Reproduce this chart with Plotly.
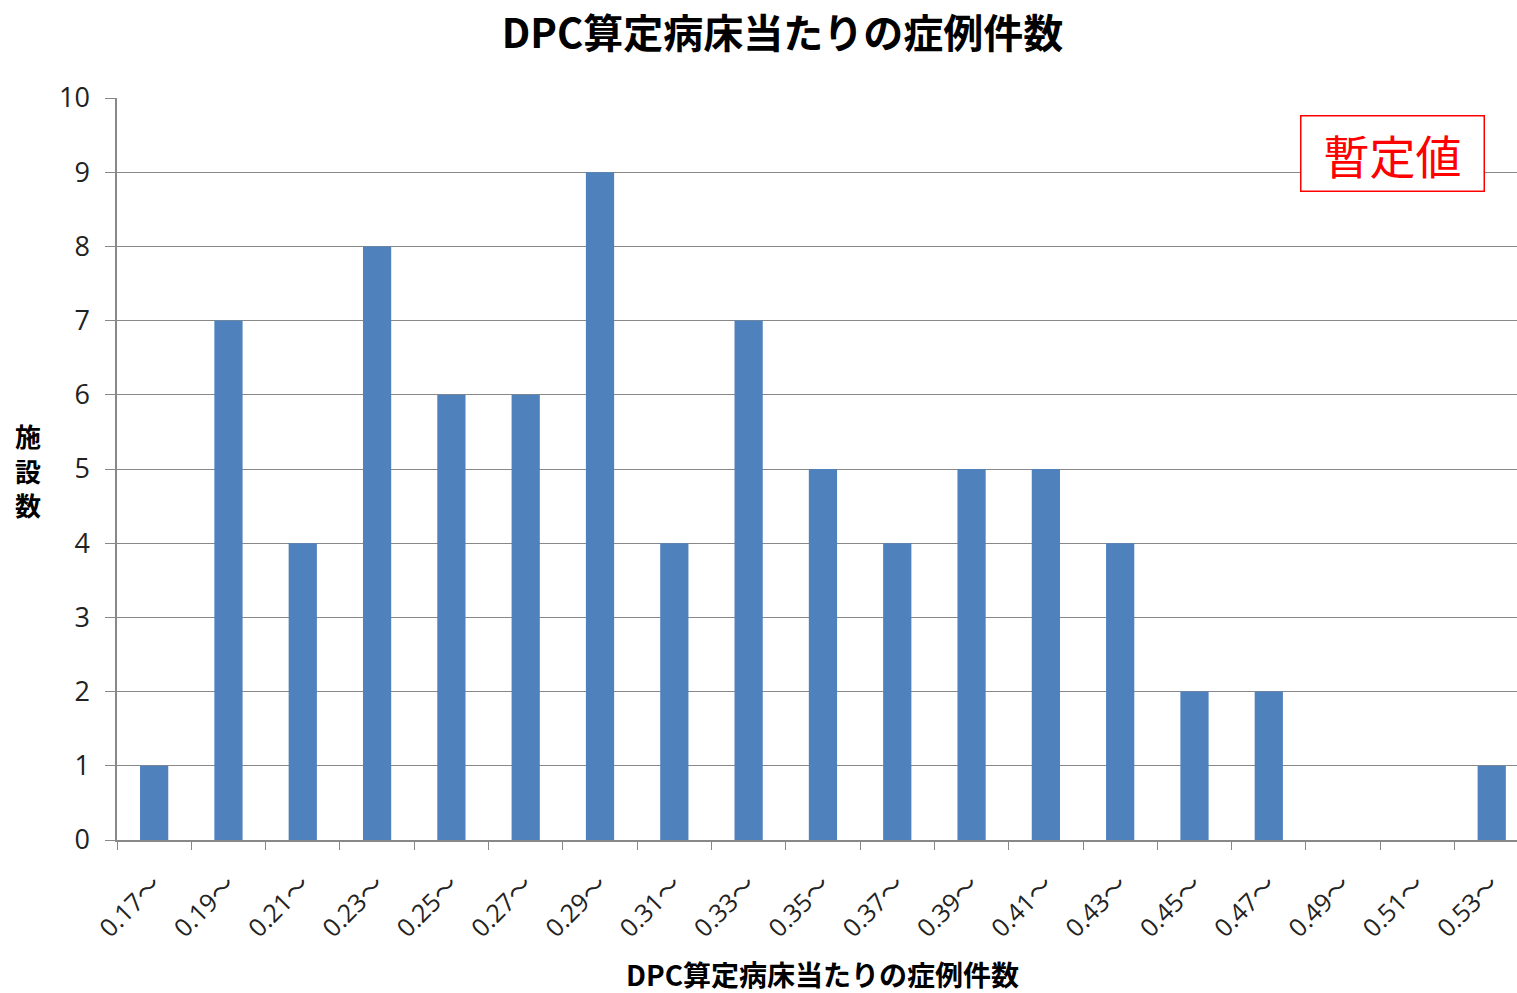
import plotly.graph_objects as go

categories = ["0.17〜", "0.19〜", "0.21〜", "0.23〜", "0.25〜", "0.27〜", "0.29〜", "0.31〜",
              "0.33〜", "0.35〜", "0.37〜", "0.39〜", "0.41〜", "0.43〜", "0.45〜", "0.47〜",
              "0.49〜", "0.51〜", "0.53〜"]
counts = [1, 7, 4, 8, 6, 6, 9, 4, 7, 5, 4, 5, 5, 4, 2, 2, 0, 0, 1]
title_text = "DPC算定病床当たりの症例件数"
y_title_chars = ["施", "設", "数"]
badge = "暫定値"

JP = "Noto Sans CJK JP, Noto Sans, sans-serif"
NUM = "Open Sans, Noto Sans CJK JP, sans-serif"

fig = go.Figure(go.Bar(x=categories, y=counts, marker=dict(color="#4F81BD", line=dict(width=0))))

annotations = []
for i, ch in enumerate(y_title_chars):
    annotations.append(dict(text=f"<b>{ch}</b>", xref="paper", yref="paper",
                            x=(28 - 117) / 1400, y=(840 - (435 + 35 * i)) / 742, xanchor="center",
                            yanchor="middle", showarrow=False, height=33,
                            font=dict(family=JP, size=26, color="black")))
annotations.append(dict(text=badge, xref="paper", yref="paper", x=0.911, y=0.925,
                        xanchor="center", yanchor="middle", showarrow=False,
                        font=dict(family=JP, size=46, color="#FF0000"),
                        bordercolor="#FF0000", borderwidth=1.5, borderpad=0,
                        bgcolor="white", width=182, height=74))
annotations.append(dict(text=f"<b>{title_text}</b>", xref="paper", yref="paper",
                        x=(822 - 117) / 1400, y=(840 - 974) / 742, xanchor="center",
                        yanchor="middle", showarrow=False, height=34,
                        font=dict(family=JP, size=28, color="black")))

fig.update_layout(
    width=1517, height=993, autosize=False,
    paper_bgcolor="white", plot_bgcolor="white",
    margin=dict(l=117, r=0, t=98, b=153),
    bargap=0.62,
    showlegend=False,
    title=dict(text=f"<b>{title_text}</b>", x=782.5 / 1517, xanchor="center", y=1 - 34 / 993,
               yanchor="middle", font=dict(family=JP, size=40, color="black")),
    xaxis=dict(
        type="category", range=[-0.5, 18.34], automargin=False,
        tickangle=-45, tickfont=dict(family=NUM, size=25, color="#222"),
        ticks="outside", tickson="boundaries", ticklen=8, tickcolor="#888",
        ticklabelstandoff=18,
        showline=True, linecolor="#888", linewidth=1.5, showgrid=False,
    ),
    yaxis=dict(
        range=[0, 10], dtick=1, tick0=0, automargin=False,
        tickfont=dict(family=NUM, size=27, color="#222"),
        ticks="outside", ticklen=10, tickcolor="#888",
        ticklabelstandoff=10,
        showline=True, linecolor="#888", linewidth=1.5,
        showgrid=True, gridcolor="#888", gridwidth=1.2,
        zeroline=False,
    ),
    annotations=annotations,
)

fig.write_html("out.html", config={"responsive": False, "displayModeBar": False},
               post_script="document.body.style.margin='0';document.body.style.overflow='hidden';")
